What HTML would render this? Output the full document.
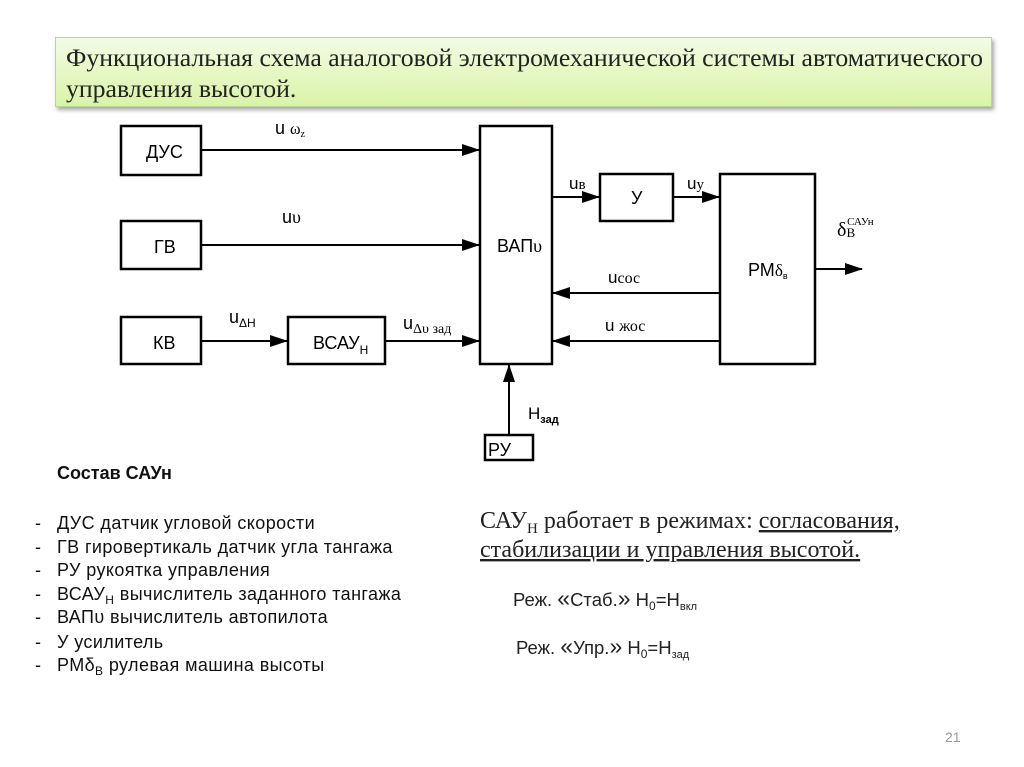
<!DOCTYPE html>
<html><head><meta charset="utf-8"><style>
body{margin:0;width:1024px;height:767px;background:#fff;overflow:hidden;position:relative;font-family:"Liberation Sans",sans-serif}
.title{position:absolute;left:55px;top:37px;width:937px;height:70px;background:linear-gradient(#f4fbe4,#d9f4a8);border:1px solid #b8d890;box-shadow:2px 3px 4px rgba(0,0,0,.35);box-sizing:border-box;font-family:"Liberation Serif",serif;font-size:25px;line-height:31px;padding:5px 0 0 10px;color:#222;}
</style></head><body>
<div class="title"><span style="display:inline-block;transform:scaleX(1.03);transform-origin:left;white-space:nowrap">Функциональная схема аналоговой электромеханической системы автоматического<br>управления высотой.</span></div>
<svg width="1024" height="767" style="position:absolute;left:0;top:0" font-family="Liberation Sans, sans-serif">
<defs><marker id="a" markerWidth="18" markerHeight="12" refX="17" refY="6" orient="auto" markerUnits="userSpaceOnUse"><path d="M0,0L18,6L0,12z" fill="#000"/></marker></defs>
<g fill="none" stroke="#000" stroke-width="2.5">
<rect x="121" y="126" width="80" height="49"/>
<rect x="121" y="221" width="80" height="48"/>
<rect x="121" y="317" width="80" height="47"/>
<rect x="288" y="317" width="97" height="47"/>
<rect x="480" y="126" width="72" height="238"/>
<rect x="600" y="174" width="73" height="47"/>
<rect x="720" y="174" width="95" height="190"/>
<rect x="485" y="435" width="48" height="25"/>
</g>
<g stroke="#000" stroke-width="2" marker-end="url(#a)">
<line x1="201" y1="150" x2="479" y2="150"/>
<line x1="201" y1="245" x2="479" y2="245"/>
<line x1="201" y1="341" x2="287" y2="341"/>
<line x1="385" y1="341" x2="479" y2="341"/>
<line x1="552" y1="197" x2="599" y2="197"/>
<line x1="673" y1="197" x2="719" y2="197"/>
<line x1="815" y1="269" x2="862" y2="269"/>
<line x1="720" y1="293" x2="553" y2="293"/>
<line x1="720" y1="341" x2="553" y2="341"/>
<line x1="509" y1="435" x2="509" y2="365"/>
</g>
<g font-size="18" fill="#000">
<text x="146" y="158">ДУС</text>
<text x="154" y="253">ГВ</text>
<text x="153" y="349">КВ</text>
<text x="313" y="349">ВСАУ<tspan font-size="12" dy="5">Н</tspan></text>
<text x="497" y="252">ВАП<tspan font-family="Liberation Serif">υ</tspan></text>
<text x="631" y="204">У</text>
<text x="748" y="276">РМ<tspan font-family="Liberation Serif" font-size="17">δ</tspan><tspan font-size="9" dy="3">в</tspan></text>
<text x="488" y="456">РУ</text>
<text x="275" y="134">u <tspan font-family="Liberation Serif" font-size="16">ω</tspan><tspan font-family="Liberation Serif" font-size="10" dy="3">z</tspan></text>
<text x="282" y="223">u<tspan font-family="Liberation Serif">υ</tspan></text>
<text x="229" y="323">u<tspan font-size="12" dy="4">ΔН</tspan></text>
<text x="403" y="329">u<tspan font-family="Liberation Serif" font-size="14" dy="4">Δυ зад</tspan></text>
<text x="528" y="419" font-size="17">Н<tspan font-size="11" dy="4" font-weight="bold">зад</tspan></text>
<text x="569" y="189" font-size="17">u<tspan font-family="Liberation Serif" font-size="15">в</tspan></text>
<text x="687" y="189" font-size="17">u<tspan font-family="Liberation Serif" font-size="15">у</tspan></text>
<text x="608" y="283" font-size="17">u<tspan font-family="Liberation Serif" font-size="16">сос</tspan></text>
<text x="605" y="331" font-size="17">u <tspan font-family="Liberation Serif" font-size="16">жос</tspan></text>
<text x="837" y="236" font-family="Liberation Serif" font-size="20">δ<tspan font-size="13" dy="1">В</tspan><tspan font-size="11" dx="-8" dy="-12">САУн</tspan></text>
</g>
<g font-size="18" fill="#111" letter-spacing="0.4">
<text x="57" y="479" font-weight="bold" letter-spacing="0">Состав САУн</text>
<text x="35" y="529">-</text><text x="57" y="529">ДУС датчик угловой скорости</text>
<text x="35" y="553">-</text><text x="57" y="553">ГВ гировертикаль датчик угла тангажа</text>
<text x="35" y="576">-</text><text x="57" y="576">РУ рукоятка управления</text>
<text x="35" y="600">-</text><text x="57" y="600">ВСАУ<tspan font-size="12" dy="4">Н</tspan><tspan dy="-4"> вычислитель заданного тангажа</tspan></text>
<text x="35" y="623">-</text><text x="57" y="623">ВАПυ вычислитель автопилота</text>
<text x="35" y="648">-</text><text x="57" y="648">У усилитель</text>
<text x="35" y="671">-</text><text x="57" y="671">РМδ<tspan font-size="12" dy="4">В</tspan><tspan dy="-4"> рулевая машина высоты</tspan></text>
</g>
<g font-family="Liberation Serif, serif" font-size="24" fill="#222">
<text x="480" y="528">САУ<tspan font-size="15" dy="5">Н</tspan><tspan dy="-5"> работает в режимах: </tspan><tspan text-decoration="underline">согласования,</tspan></text>
<text x="480" y="557" text-decoration="underline">стабилизации и управления высотой.</text>
</g>
<g font-size="18.5" fill="#222">
<text x="513" y="606">Реж. <tspan font-size="23">«</tspan>Стаб.<tspan font-size="23">»</tspan> Н<tspan font-size="12" dy="4">0</tspan><tspan dy="-4">=Н</tspan><tspan font-size="11" dy="4">вкл</tspan></text>
<text x="516" y="654">Реж. <tspan font-size="23">«</tspan>Упр.<tspan font-size="23">»</tspan> Н<tspan font-size="12" dy="4">0</tspan><tspan dy="-4">=Н</tspan><tspan font-size="11" dy="4">зад</tspan></text>
</g>
<text x="945" y="742" font-size="14" fill="#999">21</text>
</svg>
</body></html>
